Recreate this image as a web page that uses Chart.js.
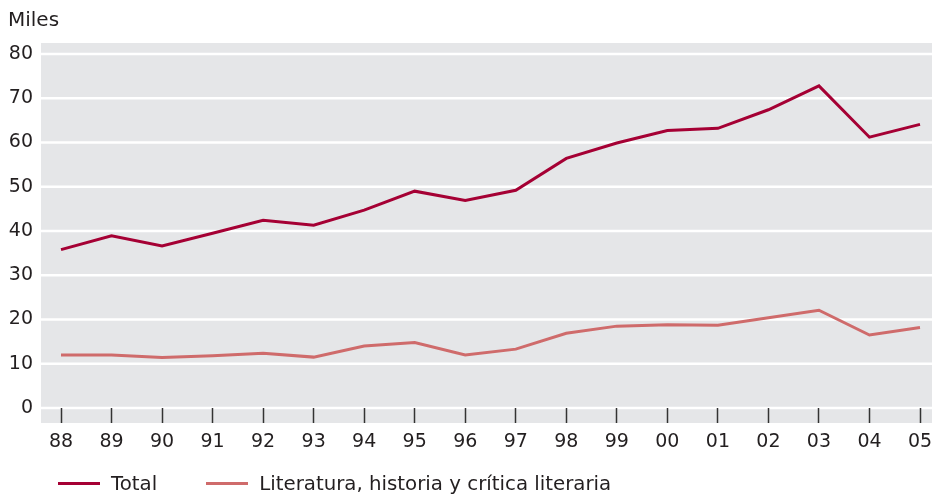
<!DOCTYPE html>
<html lang="es">
<head>
    <meta charset="UTF-8">
    <title>Miles</title>
    <script src="https://cdn.jsdelivr.net/npm/chart.js"></script>
    <style>
        body { margin: 0; background: #fff; font-family: "DejaVu Sans", sans-serif; }
        .wrap { position: relative; width: 932px; height: 495px; }
        .legend { position: absolute; left: 58px; top: 472px; display: flex; align-items: center; font-size: 19.8px; color: #231f20; }
        .legend .item { display: flex; align-items: center; margin-right: 49px; }
        .legend .swatch { width: 42px; height: 3px; margin-right: 11px; }
    </style>
</head>
<body>
    <div class="wrap">
        <canvas id="chart"></canvas>
        <div class="legend" id="legend"></div>
    </div>

    <script>
        // Data (miles)
        const years = ['88', '89', '90', '91', '92', '93', '94', '95', '96', '97', '98', '99', '00', '01', '02', '03', '04', '05'];
        const totalData = [35.8, 38.9, 36.6, 39.5, 42.4, 41.3, 44.7, 49.0, 46.9, 49.2, 56.4, 59.9, 62.7, 63.2, 67.4, 72.8, 61.2, 64.1];
        const literaturaData = [12.0, 12.0, 11.4, 11.8, 12.4, 11.5, 14.0, 14.8, 12.0, 13.3, 16.9, 18.5, 18.8, 18.7, 20.4, 22.1, 16.5, 18.2];
        const yTicks = [0, 10, 20, 30, 40, 50, 60, 70, 80];

        const fontFamily = '"DejaVu Sans", sans-serif';

        // gray panel + full-width white gridlines
        const panelPlugin = {
            id: 'panel',
            beforeDraw(chart) {
                const { ctx, chartArea, width, scales } = chart;
                const left = chartArea.left - 20;
                const top = chartArea.top - 11;
                const bottom = chartArea.bottom + 15;
                ctx.save();
                ctx.fillStyle = '#e5e6e8';
                ctx.fillRect(left, top, width - left, bottom - top);
                ctx.strokeStyle = '#ffffff';
                ctx.lineWidth = 2.5;
                yTicks.forEach(v => {
                    const y = scales.y.getPixelForValue(v);
                    ctx.beginPath();
                    ctx.moveTo(left, y);
                    ctx.lineTo(width, y);
                    ctx.stroke();
                });
                ctx.restore();
            }
        };

        const ctx = document.getElementById('chart').getContext('2d');
        const chart = new Chart(ctx, {
            type: 'line',
            data: {
                labels: years,
                datasets: [
                    {
                        label: 'Total',
                        data: totalData,
                        borderColor: '#a50034',
                        borderWidth: 3,
                        pointRadius: 0,
                        tension: 0
                    },
                    {
                        label: 'Literatura, historia y crítica literaria',
                        data: literaturaData,
                        borderColor: '#cf6b6b',
                        borderWidth: 3,
                        pointRadius: 0,
                        tension: 0
                    }
                ]
            },
            options: {
                responsive: true,
                maintainAspectRatio: false,
                animation: false,
                layout: { padding: { left: 8, right: 0, top: 0, bottom: 0 } },
                plugins: {
                    legend: { display: false },
                    tooltip: { enabled: false },
                    title: {
                        display: true,
                        text: 'Miles',
                        align: 'start',
                        color: '#231f20',
                        font: { family: fontFamily, size: 20, weight: 'normal' },
                        padding: { top: 9, bottom: 21 }
                    }
                },
                scales: {
                    x: {
                        offset: false,
                        grid: {
                            drawOnChartArea: false,
                            drawTicks: true,
                            tickLength: 15,
                            tickColor: '#333333',
                            tickWidth: 1.5
                        },
                        border: { display: false },
                        ticks: {
                            color: '#231f20',
                            padding: 8,
                            maxRotation: 0,
                            autoSkip: false,
                            font: { family: fontFamily, size: 19 }
                        },
                        afterFit(axis) {
                            axis.height = 87;
                            axis.paddingLeft = 0;
                            axis.paddingRight = 12;
                        }
                    },
                    y: {
                        min: 0,
                        max: 80,
                        grid: { display: false, drawTicks: false },
                        border: { display: false },
                        ticks: {
                            stepSize: 10,
                            color: '#231f20',
                            padding: 28,
                            font: { family: fontFamily, size: 19 }
                        },
                        afterFit(axis) { axis.width = 53; }
                    }
                }
            },
            plugins: [panelPlugin]
        });

        // HTML legend built from the datasets
        const legendEl = document.getElementById('legend');
        chart.data.datasets.forEach(ds => {
            const item = document.createElement('div');
            item.className = 'item';
            const sw = document.createElement('span');
            sw.className = 'swatch';
            sw.style.background = ds.borderColor;
            const txt = document.createElement('span');
            txt.textContent = ds.label;
            item.appendChild(sw);
            item.appendChild(txt);
            legendEl.appendChild(item);
        });
    </script>
</body>
</html>
